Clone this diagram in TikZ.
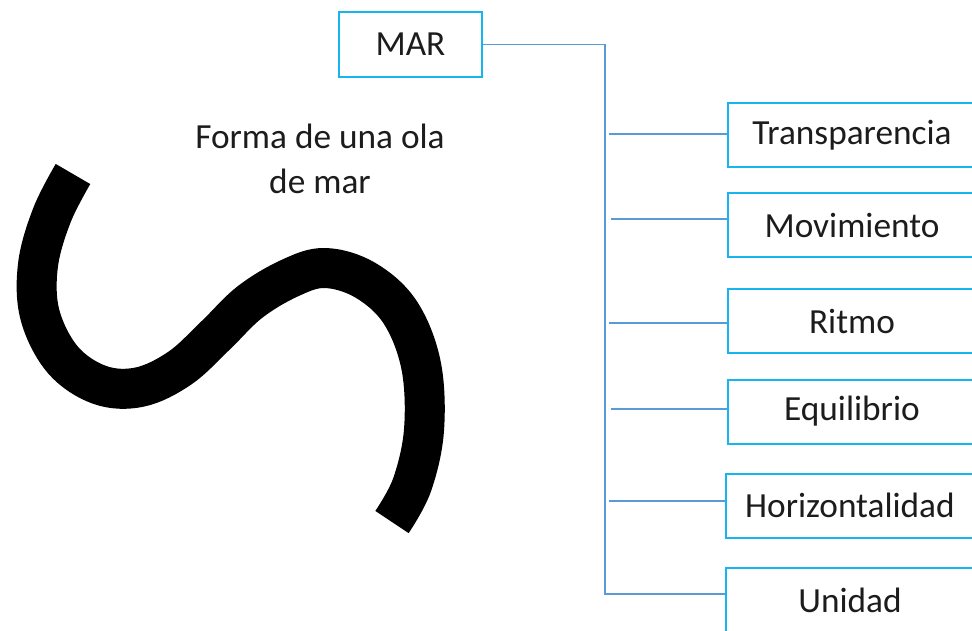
\documentclass[tikz,border=0pt]{standalone}
\usepackage{fontspec}
\setmainfont{Carlito}
\definecolor{boxblue}{HTML}{18B4F0}
\definecolor{linkblue}{HTML}{5B9BD5}
\definecolor{ink}{HTML}{1C1C1C}
\begin{document}
\begin{tikzpicture}[x=1pt,y=-1pt,
  every node/.style={font=\fontsize{35.3}{45}\selectfont, text=ink},
  concept/.style={draw=boxblue, line width=2pt, rectangle, inner sep=0pt,
    minimum height=64pt},
  item/.style={concept, minimum width=248pt},
  link/.style={draw=linkblue, line width=1.8pt}]
\useasboundingbox (0,0) rectangle (972,630);
\clip (0,0) rectangle (972,630);

% main concept and its attributes
\node[concept, minimum width=143pt, minimum height=65pt] (mar) at (410.5,44.5) {MAR};
\node[item] (t1) at (852,135)   {Transparencia};
\node[item] (t2) at (852,225)   {Movimiento};
\node[item] (t3) at (852,321)   {Ritmo};
\node[item] (t4) at (852,411.5) {Equilibrio};
\node[item] (t5) at (850,505.5) {Horizontalidad};
\node[item] (t6) at (850,600)   {Unidad};

% trunk from MAR down to the last attribute
\coordinate (trunkbot) at (605,594);
\draw[link] (mar.east) -| (trunkbot) -- (trunkbot -| t6.west);

% short branches, slightly detached from the trunk
\coordinate (b1) at (609,134);
\coordinate (b2) at (611,219);
\coordinate (b3) at (609,323);
\coordinate (b4) at (611,409);
\coordinate (b5) at (609,501);
\draw[link] (b1) -- (b1 -| t1.west);
\draw[link] (b2) -- (b2 -| t2.west);
\draw[link] (b3) -- (b3 -| t3.west);
\draw[link] (b4) -- (b4 -| t4.west);
\draw[link] (b5) -- (b5 -| t5.west);

% caption of the wave (base anchor sits on the last line)
\node[align=center, anchor=base, inner sep=0pt] (caption) at (320,193)
  {Forma de una ola\\de mar};

% brush stroke of the wave
\draw[line width=40pt, line cap=butt, line join=round, black]
  plot[smooth, tension=0.6] coordinates {
    (73,174) (52,215) (38,265) (40,315) (63,360) (100,385) (140,387)
    (180,368) (215,336) (250,302) (290,278) (325,268) (365,280)
    (400,312) (421,365) (424,430) (412,485) (392,522)};
\end{tikzpicture}
\end{document}
